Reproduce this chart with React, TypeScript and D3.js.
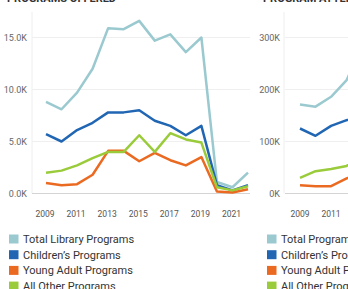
import React from "react";
import * as d3 from "d3";

const years = [2009, 2010, 2011, 2012, 2013, 2014, 2015, 2016, 2017, 2018, 2019, 2020, 2021, 2022];
const leftNames = ["Total Library Programs", "Children’s Programs", "Young Adult Programs", "All Other Programs"];
const rightNames = ["Total Program Attendance", "Children’s Program Attendance", "Young Adult Program Attendance", "All Other Program Attendance"];
const seriesColors = ["#9ac9cf", "#2166b3", "#eb6a22", "#9acb3a"];

// Programs offered (thousands)
const offeredTotal = [8.8, 8.1, 9.7, 12.0, 15.9, 15.8, 16.6, 14.7, 15.3, 13.6, 15.0, 1.1, 0.6, 2.0];
const offeredChildren = [5.7, 5.0, 6.1, 6.8, 7.8, 7.8, 8.0, 7.0, 6.5, 5.6, 6.5, 0.8, 0.3, 0.8];
const offeredYoungAdult = [1.0, 0.8, 0.9, 1.8, 4.1, 4.1, 3.1, 3.9, 3.2, 2.7, 3.5, 0.2, 0.1, 0.4];
const offeredOther = [2.0, 2.2, 2.7, 3.4, 4.0, 4.0, 5.6, 4.0, 5.8, 5.2, 4.9, 0.6, 0.3, 0.7];

// Program attendance (thousands) - visible years
const attendYears = [2009, 2010, 2011, 2012, 2013];
const attendTotal = [171, 167, 186, 218, 285];
const attendChildren = [125, 111, 130, 141, 150];
const attendYoungAdult = [16, 14, 14, 29, 40];
const attendOther = [30, 43, 47, 53, 70];

const leftTicks = [0, 5, 10, 15];
const leftTickLabels = ["0.0K", "5.0K", "10.0K", "15.0K"];
const rightTicks = [0, 100, 200, 300];
const rightTickLabels = ["0K", "100K", "200K", "300K"];
const xTickYears = [2009, 2011, 2013, 2015, 2017, 2019, 2021];

const font = "Roboto, 'Open Sans', sans-serif";

export default function App() {
  const y0 = 193.5;
  const yL = d3.scaleLinear().domain([0, 15]).range([y0, y0 - 156]);
  const yR = d3.scaleLinear().domain([0, 300]).range([y0, y0 - 156]);
  const xL = d3.scaleLinear().domain([2009, 2022]).range([46, 248]);
  const xR = d3.scaleLinear().domain([2009, 2022]).range([300, 502]);

  const leftSeries = [offeredTotal, offeredChildren, offeredYoungAdult, offeredOther];
  const rightSeries = [attendTotal, attendChildren, attendYoungAdult, attendOther];

  const lineL = d3.line<number>().x((_, i) => xL(years[i])).y((d) => yL(d));
  const lineR = d3.line<number>().x((_, i) => xR(attendYears[i])).y((d) => yR(d));

  return (
    <svg width={348} height={289} style={{ position: "absolute", left: 0, top: 0, background: "#fff" }} fontFamily={font}>
      {/* titles (cut off at top) */}
      <text x={7} y={2} fontSize={11} fontWeight="bold" fill="#333">PROGRAMS OFFERED</text>
      <text x={263} y={2} fontSize={11} fontWeight="bold" fill="#333">PROGRAM ATTENDANCE</text>

      {/* left panel */}
      <line x1={32} x2={32} y1={12} y2={y0} stroke="#eeeeee" />
      {leftTicks.map((t, i) => (
        <g key={"lt" + i}>
          <line x1={32} x2={250} y1={yL(t)} y2={yL(t)} stroke={t === 0 ? "#d4d4d4" : "#efefef"} />
          <text x={27} y={yL(t) + 3.2} fontSize={9} textAnchor="end" fill="#666">{leftTickLabels[i]}</text>
        </g>
      ))}
      {xTickYears.map((yr) => (
        <text key={"lx" + yr} x={xL(yr) - 1} y={217} fontSize={8.5} textAnchor="middle" fill="#555">{yr}</text>
      ))}
      {leftSeries.map((s, i) => (
        <path key={"ls" + i} d={lineL(s) || ""} fill="none" stroke={seriesColors[i]} strokeWidth={2.5} strokeLinejoin="round" />
      ))}

      {/* right panel */}
      <line x1={284} x2={284} y1={12} y2={y0} stroke="#eeeeee" />
      {rightTicks.map((t, i) => (
        <g key={"rt" + i}>
          <line x1={285} x2={348} y1={yR(t)} y2={yR(t)} stroke={t === 0 ? "#d4d4d4" : "#efefef"} />
          <text x={280} y={yR(t) + 3.2} fontSize={9} textAnchor="end" fill="#666">{rightTickLabels[i]}</text>
        </g>
      ))}
      {xTickYears.map((yr) => (
        <text key={"rx" + yr} x={xR(yr)} y={217} fontSize={8.5} textAnchor="middle" fill="#555">{yr}</text>
      ))}
      {rightSeries.map((s, i) => (
        <path key={"rs" + i} d={lineR(s) || ""} fill="none" stroke={seriesColors[i]} strokeWidth={2.5} strokeLinejoin="round" />
      ))}

      {/* legends */}
      {[
        { lx: 9, names: leftNames },
        { lx: 267, names: rightNames },
      ].map((lg, li) =>
        lg.names.map((n, i) => (
          <g key={"lg" + li + i} transform={`translate(${lg.lx},${234.5 + i * 15.7})`}>
            <rect x={0} y={0} width={9.5} height={9} fill={seriesColors[i]} />
            <text x={14} y={8.5} fontSize={11} fill="#333">{n}</text>
          </g>
        ))
      )}
    </svg>
  );
}
